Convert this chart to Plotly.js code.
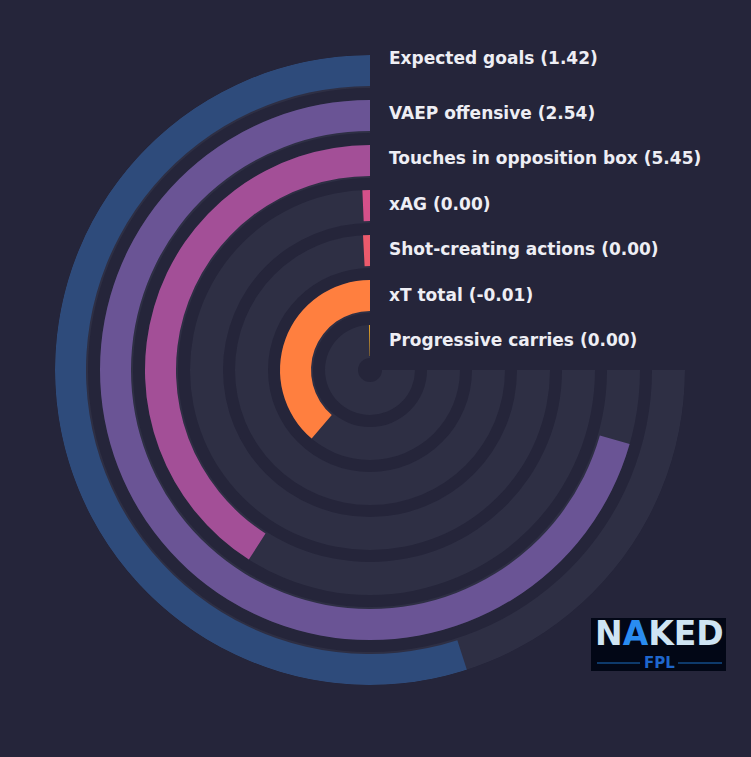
<!DOCTYPE html>
<html>
<head>
<meta charset="utf-8">
<script src="https://cdn.plot.ly/plotly-3.0.1.min.js"></script>
<style>
  html, body { margin: 0; padding: 0; background: #25253a; }
  #chart { width: 751px; height: 757px; }
</style>
</head>
<body>
<div id="chart"></div>
<script>
// metrics, outer ring first
var metrics = ["Expected goals", "VAEP offensive", "Touches in opposition box", "xAG",
               "Shot-creating actions", "xT total", "Progressive carries"];
var values = [1.42, 2.54, 5.45, 0.00, 0.00, -0.01, 0.00];
// percentile rank -> share of the 270 degree track
var percentiles = [73.3, 94.1, 54.6, 0.9, 1.1, 51.7, 0.5];
var colors = ["#2e4b7b", "#6a5495", "#a34f97", "#d4508a", "#ec5a6c", "#ff7f3f", "#e0a028"];

var W = 751, H = 757;
var cx = 370, cy = 370, R = 315;   // circle in pixels
var step = 45, barW = 31, trackW = 33;
var sweep = 270;

var outer = metrics.map(function (m, i) { return R - step * i; });

var tracks = {
  type: "barpolar",
  r: outer.map(function () { return trackW; }),
  base: outer.map(function (o) { return o - trackW; }),
  theta: outer.map(function () { return sweep / 2; }),
  width: outer.map(function () { return sweep; }),
  marker: { color: "#2e2f44", line: { width: 0 } },
  hoverinfo: "skip"
};

var bars = {
  type: "barpolar",
  r: outer.map(function () { return barW; }),
  base: outer.map(function (o) { return o - barW; }),
  theta: percentiles.map(function (p) { return p / 100 * sweep / 2; }),
  width: percentiles.map(function (p) { return p / 100 * sweep; }),
  marker: { color: colors, line: { width: 0 } },
  text: metrics,
  hoverinfo: "text"
};

var labelY = [58, 113, 158, 204, 249, 295, 340];
var annotations = metrics.map(function (m, i) {
  return {
    xref: "paper", yref: "paper",
    x: 387 / W, y: 1 - labelY[i] / H,
    xanchor: "left", yanchor: "middle",
    text: m + " (" + values[i].toFixed(2) + ")",
    showarrow: false,
    font: { family: "DejaVu Sans", size: 17, color: "#eeeef4", weight: "bold" }
  };
});

// logo stand-in
annotations.push({
  xref: "paper", yref: "paper", x: 659 / W, y: 1 - 633 / H,
  xanchor: "center", yanchor: "middle", showarrow: false,
  text: "N<span style='color:#2a8cf0'>A</span>KED",
  font: { family: "DejaVu Sans", size: 33, color: "#cfe4f3", weight: "bold" }
});
annotations.push({
  xref: "paper", yref: "paper", x: 659 / W, y: 1 - 663 / H,
  xanchor: "center", yanchor: "middle", showarrow: false,
  text: "FPL",
  font: { family: "DejaVu Sans", size: 15, color: "#1f66cc", weight: "bold" }
});

var layout = {
  width: W, height: H,
  margin: { t: 0, r: 0, b: 0, l: 0 },
  paper_bgcolor: "#25253a",
  plot_bgcolor: "#25253a",
  showlegend: false,
  polar: {
    domain: { x: [(cx - R) / W, (cx + R) / W], y: [(H - cy - R) / H, (H - cy + R) / H] },
    bgcolor: "rgba(0,0,0,0)",
    barmode: "overlay",
    radialaxis: { range: [0, R], visible: false, showgrid: false },
    angularaxis: { visible: false, rotation: 90, direction: "counterclockwise", showgrid: false }
  },
  shapes: [
    { type: "rect", xref: "paper", yref: "paper",
      x0: 591 / W, x1: 726 / W, y0: 1 - 671 / H, y1: 1 - 618 / H,
      fillcolor: "#020716", line: { width: 0 } },
    { type: "line", xref: "paper", yref: "paper",
      x0: 597 / W, x1: 640 / W, y0: 1 - 663 / H, y1: 1 - 663 / H,
      line: { color: "#1a6fc0", width: 1 } },
    { type: "line", xref: "paper", yref: "paper",
      x0: 678 / W, x1: 722 / W, y0: 1 - 663 / H, y1: 1 - 663 / H,
      line: { color: "#1a6fc0", width: 1 } }
  ],
  annotations: annotations
};

Plotly.newPlot("chart", [tracks, bars], layout, { displayModeBar: false, responsive: false });
</script>
</body>
</html>
